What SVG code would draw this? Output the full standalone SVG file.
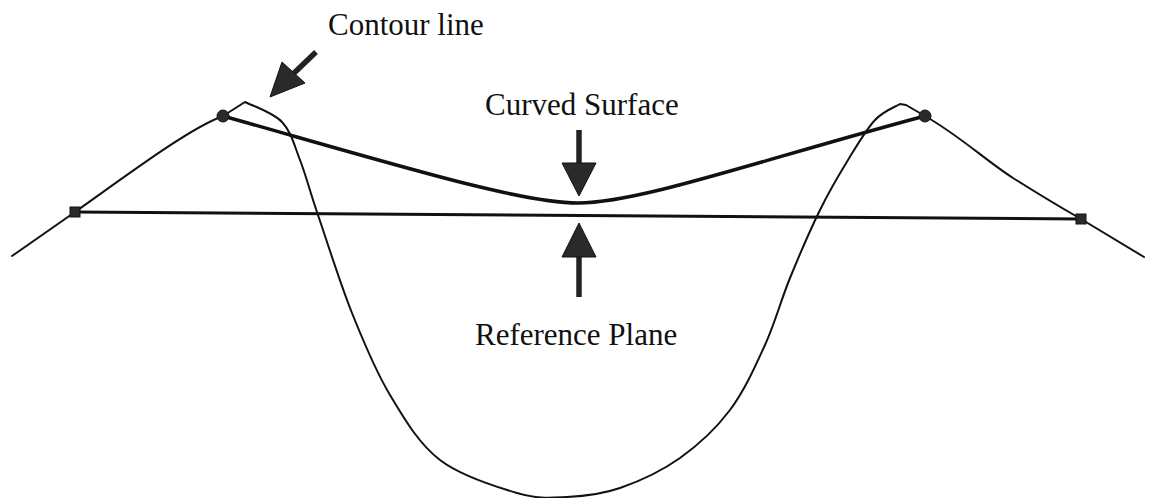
<svg xmlns="http://www.w3.org/2000/svg" width="1154" height="498" viewBox="0 0 1154 498">
<style>
.thin{fill:none;stroke:#111;stroke-width:2;stroke-linejoin:round;stroke-linecap:round}
.thick{fill:none;stroke:#111;stroke-width:3.5;stroke-linecap:round}
.mark{fill:#2a2a2a;stroke:#111;stroke-width:1}
.lbl{font-family:"Liberation Serif","Times New Roman",serif;font-size:31px;fill:#111}
.shaft{stroke:#222;stroke-width:5.5;fill:none}
.head{fill:#2a2a2a;stroke:#111;stroke-width:1}
</style>
<rect width="1154" height="498" fill="#fff"/>
<g id="contour">
<path class="thin" d="M12,256 L75,212 C130,173 190,128 223,116 L245,102 C251.2,105.3 272.8,112.3 282,122 C291.2,131.7 294,144.5 300,160 C306,175.5 309.3,189.5 318,215 C326.7,240.5 340,283 352,313 C364,343 375.3,370.5 390,395 C404.7,419.5 418.8,443.7 440,460 C461.2,476.3 495.8,486.8 517,493 C538.2,499.2 549.8,497.8 567,497 C584.2,496.2 601.2,494.5 620,488 C638.8,481.5 661.7,471 680,458 C698.3,445 715.8,428.8 730,410 C744.2,391.2 755,367 765,345 C775,323 780.8,300.5 790,278 C799.2,255.5 810.3,229.7 820,210 C829.7,190.3 838.8,175 848,160 C857.2,145 866.3,129.3 875,120 C883.7,110.7 895.8,106.7 900,104 L906,105 L925,116 C960,136 985,160 1013,178 C1040,195 1060,207 1081,219 L1144,257"/>
</g>
<g id="reference-plane">
<line class="thick" x1="75" y1="212" x2="1081" y2="219" style="stroke-width:3"/>
<rect class="mark" x="70" y="207" width="10" height="10"/>
<rect class="mark" x="1076" y="214" width="10" height="10"/>
</g>
<g id="curved-surface">
<path class="thick" d="M223,116 C400,166 520,203 578,203 C640,203 760,160 925,116"/>
<circle class="mark" cx="223" cy="116" r="6"/>
<circle class="mark" cx="925" cy="116" r="6"/>
</g>
<g id="connectors">
<line class="shaft" x1="316" y1="52" x2="292" y2="75"/>
<polygon class="head" points="270,97 282,62 305,83"/>
<line class="shaft" x1="579" y1="130" x2="579" y2="165"/>
<polygon class="head" points="562,163 596,163 579,196"/>
<line class="shaft" x1="579" y1="255" x2="579" y2="297"/>
<polygon class="head" points="579,223 562,257 596,257"/>
</g>
<g id="labels">
<text class="lbl" x="328" y="35">Contour line</text>
<text class="lbl" x="485" y="115">Curved Surface</text>
<text class="lbl" x="475" y="345">Reference Plane</text>
</g>
</svg>
